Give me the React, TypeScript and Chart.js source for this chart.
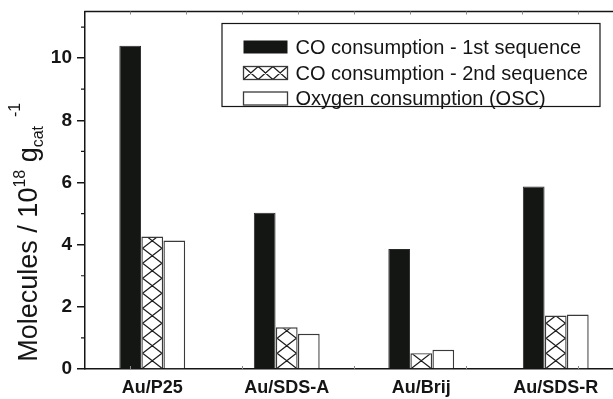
import React, { useEffect, useRef } from "react";
import { Chart, registerables } from "chart.js";

Chart.register(...registerables);

// Catalysts and the three measured quantities (10^18 molecules per g of catalyst)
const categories = ["Au/P25", "Au/SDS-A", "Au/Brij", "Au/SDS-R"];
const coFirstSequence = [10.4, 5.03, 3.86, 5.87];
const coSecondSequence = [4.26, 1.34, 0.51, 1.72];
const oxygenConsumption = [4.13, 1.13, 0.62, 1.75];
const seriesNames = [
  "CO consumption - 1st sequence",
  "CO consumption - 2nd sequence",
  "Oxygen consumption (OSC)",
];
const yMajorTicks = [0, 2, 4, 6, 8, 10];
const yMinorTicks = [1, 3, 5, 7, 9, 11];

const FONT = "'Liberation Sans', Arial, Helvetica, sans-serif";
const INK = "#151515";
const BAR_BLACK = "#141614";
const EDGE = "#3a3a3a";

// Diagonal cross-hatch inside a rectangle (diamond lattice)
function crossHatch(
  ctx: CanvasRenderingContext2D,
  left: number,
  top: number,
  width: number,
  height: number,
  cellW: number,
  cellH: number,
  anchorBottom: boolean
) {
  ctx.save();
  ctx.beginPath();
  ctx.rect(left, top, width, height);
  ctx.clip();
  ctx.strokeStyle = "#1e1e1e";
  ctx.lineWidth = 1.2;
  const y0 = anchorBottom ? top + height : top;
  const rows = Math.ceil(height / cellH) + 2;
  const cols = Math.ceil(width / cellW) + 2;
  ctx.beginPath();
  for (let r = -rows; r <= rows; r++) {
    for (let c = -1; c <= cols; c++) {
      const x = left + c * cellW;
      const y = y0 + (anchorBottom ? -1 : 1) * r * cellH;
      ctx.moveTo(x, y);
      ctx.lineTo(x + cellW, y + cellH);
      ctx.moveTo(x + cellW, y);
      ctx.lineTo(x, y + cellH);
    }
  }
  ctx.stroke();
  ctx.restore();
}

const hatchPlugin = {
  id: "hatchBars",
  afterDatasetsDraw(chart: any) {
    const ctx: CanvasRenderingContext2D = chart.ctx;
    const meta = chart.getDatasetMeta(1);
    meta.data.forEach((bar: any) => {
      const { x, y, base, width } = bar.getProps(["x", "y", "base", "width"], true);
      const left = x - width / 2;
      const inset = 1.2;
      const innerW = width - 2 * inset;
      crossHatch(
        ctx,
        left + inset,
        y + inset,
        innerW,
        base - y - inset,
        innerW,
        15,
        true
      );
    });
  },
};

const framePlugin = {
  id: "frameDecor",
  afterDraw(chart: any) {
    const ctx: CanvasRenderingContext2D = chart.ctx;
    const ca = chart.chartArea;
    const yScale = chart.scales.y;
    const xScale = chart.scales.x;
    ctx.save();

    // top frame line
    ctx.strokeStyle = INK;
    ctx.lineWidth = 1.5;
    ctx.beginPath();
    ctx.moveTo(ca.left - 0.75, ca.top);
    ctx.lineTo(ca.right + 1, ca.top);
    ctx.moveTo(ca.right, ca.top);
    ctx.lineTo(ca.right, ca.bottom);
    ctx.stroke();

    // minor ticks on the value axis
    ctx.lineWidth = 1.2;
    ctx.beginPath();
    yMinorTicks.forEach((v) => {
      const py = yScale.getPixelForValue(v);
      ctx.moveTo(ca.left, py);
      ctx.lineTo(ca.left - 4, py);
    });
    ctx.stroke();

    // faint inward ticks along the top and bottom frame
    const unit = xScale.getPixelForValue(1) - xScale.getPixelForValue(0);
    const origin = xScale.getPixelForValue(0);
    ctx.strokeStyle = "#8a8a8a";
    ctx.lineWidth = 1;
    ctx.beginPath();
    for (let k = 0; k < 9; k++) {
      const px = Math.round(origin + (-0.165 + 0.4163 * k) * unit) + 0.5;
      ctx.moveTo(px, ca.top);
      ctx.lineTo(px, ca.top + 3);
      if (k % 2 === 0) {
        ctx.moveTo(px, ca.bottom);
        ctx.lineTo(px, ca.bottom - 3);
      }
    }
    ctx.stroke();

    // value-axis title with super- and subscripts
    const parts = [
      { t: "Molecules / 10", s: 27, dy: 0 },
      { t: "18", s: 16, dy: -12 },
      { t: " g", s: 27, dy: 0 },
      { t: "cat", s: 16, dy: 6 },
      { t: "  ", s: 16, dy: 0 },
      { t: "-1", s: 16, dy: -17 },
    ];
    let total = 0;
    const widths = parts.map((p) => {
      ctx.font = `${p.s}px ${FONT}`;
      const w = ctx.measureText(p.t).width;
      total += w;
      return w;
    });
    const midY = (ca.top + ca.bottom) / 2 + 42;
    ctx.translate(37, midY);
    ctx.rotate(-Math.PI / 2);
    ctx.fillStyle = INK;
    ctx.textBaseline = "alphabetic";
    ctx.textAlign = "left";
    let cx = -total / 2;
    parts.forEach((p, i) => {
      ctx.font = `${p.s}px ${FONT}`;
      ctx.fillText(p.t, cx, p.dy);
      cx += widths[i];
    });
    ctx.restore();

    // legend box
    ctx.save();
    const boxL = ca.left + 137;
    const boxT = ca.top + 12;
    const boxW = 378;
    const boxH = 83;
    ctx.strokeStyle = INK;
    ctx.lineWidth = 1.2;
    ctx.strokeRect(boxL, boxT, boxW, boxH);
    const rowY = [boxT + 23.5, boxT + 49.5, boxT + 75];
    const swL = boxL + 21.5;
    const swW = 44;
    const swH = 13;
    ctx.font = `20px ${FONT}`;
    ctx.textBaseline = "middle";
    ctx.fillStyle = INK;
    rowY.forEach((ry, i) => {
      const top = ry - swH / 2;
      if (i === 0) {
        ctx.fillStyle = BAR_BLACK;
        ctx.fillRect(swL, top, swW, swH);
      } else {
        ctx.fillStyle = "#fff";
        ctx.fillRect(swL, top, swW, swH);
        if (i === 1) crossHatch(ctx, swL, top, swW, swH, swW / 3, swH, false);
        ctx.strokeStyle = EDGE;
        ctx.lineWidth = 1.3;
        ctx.strokeRect(swL, top, swW, swH);
      }
      ctx.fillStyle = INK;
      ctx.fillText(seriesNames[i], swL + swW + 8, ry + 1);
    });
    ctx.restore();
  },
};

export default function App() {
  const canvasRef = useRef<HTMLCanvasElement | null>(null);

  useEffect(() => {
    const canvas = canvasRef.current;
    if (!canvas) return;
    const chart = new Chart(canvas, {
      type: "bar",
      data: {
        labels: categories,
        datasets: [
          {
            label: seriesNames[0],
            data: coFirstSequence,
            backgroundColor: BAR_BLACK,
            borderColor: "#2a2a2a",
            borderWidth: 1,
          },
          {
            label: seriesNames[1],
            data: coSecondSequence,
            backgroundColor: "#ffffff",
            borderColor: EDGE,
            borderWidth: 1.4,
          },
          {
            label: seriesNames[2],
            data: oxygenConsumption,
            backgroundColor: "#ffffff",
            borderColor: EDGE,
            borderWidth: 1.4,
          },
        ],
      },
      plugins: [hatchPlugin, framePlugin],
      options: {
        responsive: false,
        animation: false,
        devicePixelRatio: 1,
        layout: { padding: { top: 11.5, left: 0, right: 0, bottom: 0 } },
        plugins: {
          legend: { display: false },
          tooltip: { enabled: false },
          title: { display: false },
        },
        datasets: {
          bar: {
            categoryPercentage: 0.492,
            barPercentage: 0.985,
          },
        },
        scales: {
          x: {
            offset: true,
            grid: { display: false, drawTicks: false },
            border: { display: true, color: INK, width: 1.5 },
            ticks: {
              color: INK,
              padding: 8,
              font: { family: FONT, size: 18, weight: "bold" },
            },
            afterFit: (scale: any) => {
              scale.height = 30;
              scale.paddingLeft = 0;
              scale.paddingRight = 0;
            },
          },
          y: {
            min: 0,
            max: 11.5,
            grid: {
              drawOnChartArea: false,
              drawTicks: true,
              tickLength: 8,
              color: INK,
              lineWidth: 1.5,
            },
            border: { display: true, color: INK, width: 1.5 },
            ticks: {
              stepSize: 2,
              color: INK,
              padding: 5,
              font: { family: FONT, size: 19, weight: "bold" },
            },
            afterBuildTicks: (scale: any) => {
              scale.ticks = yMajorTicks.map((v) => ({ value: v }));
            },
            afterFit: (scale: any) => {
              scale.width = 85;
              scale.paddingTop = 0;
              scale.paddingBottom = 0;
            },
          },
        },
      },
    });
    return () => chart.destroy();
  }, []);

  return (
    <div
      style={{
        position: "fixed",
        left: 0,
        top: 0,
        width: 613,
        height: 399,
        overflow: "hidden",
        background: "#fff",
      }}
    >
      <canvas ref={canvasRef} width={623} height={399} style={{ display: "block" }} />
    </div>
  );
}
